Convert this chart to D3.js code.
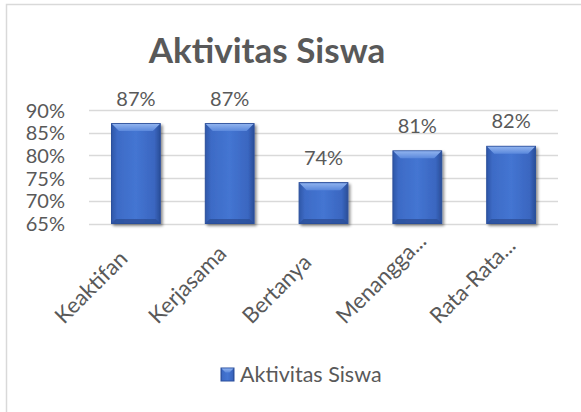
<!DOCTYPE html>
<html>
<head>
<meta charset="utf-8">
<script src="https://cdn.jsdelivr.net/npm/d3@7"></script>
<style>
  body { margin: 0; background: #fff; }
  text { font-family: Lato, "Noto Sans", sans-serif; fill: #595959; }
</style>
</head>
<body>
<div id="chart"></div>
<script>
// data
var categories = ["Keaktifan", "Kerjasama", "Bertanya", "Menangga...", "Rata-Rata..."];
var values = [0.87, 0.87, 0.74, 0.81, 0.82];
var valueLabels = ["87%", "87%", "74%", "81%", "82%"];
var yTicks = [0.65, 0.70, 0.75, 0.80, 0.85, 0.90];
var seriesName = "Aktivitas Siswa";
var chartTitle = "Aktivitas Siswa";

var W = 581, H = 412;
var margin = {top: 110, left: 89, right: 23, bottom: 188.5};
var width = W - margin.left - margin.right,
    height = H - margin.top - margin.bottom;

var svg = d3.select("#chart").append("svg")
    .attr("width", W)
    .attr("height", H);

// chart border (runs off the right and bottom edge)
svg.append("rect")
    .attr("x", 6.5).attr("y", 4.5)
    .attr("width", 700).attr("height", 600)
    .attr("fill", "none")
    .attr("stroke", "#d9d9d9")
    .attr("stroke-width", 1.5);

var defs = svg.append("defs");
var grad = defs.append("linearGradient").attr("id", "barGrad")
    .attr("x1", "0").attr("x2", "1").attr("y1", "0").attr("y2", "0");
grad.append("stop").attr("offset", "0%").attr("stop-color", "#2f57a8");
grad.append("stop").attr("offset", "12%").attr("stop-color", "#3d6bc6");
grad.append("stop").attr("offset", "50%").attr("stop-color", "#4475d2");
grad.append("stop").attr("offset", "88%").attr("stop-color", "#3a66c0");
grad.append("stop").attr("offset", "100%").attr("stop-color", "#2a4e98");

var topGrad = defs.append("linearGradient").attr("id", "topGrad")
    .attr("x1", "0").attr("x2", "0").attr("y1", "0").attr("y2", "1");
topGrad.append("stop").attr("offset", "0%").attr("stop-color", "#8fb2ee");
topGrad.append("stop").attr("offset", "100%").attr("stop-color", "#5a88dc");

var shadow = defs.append("filter").attr("id", "shadow")
    .attr("x", "-20%").attr("y", "-20%").attr("width", "150%").attr("height", "150%");
shadow.append("feGaussianBlur").attr("in", "SourceAlpha").attr("stdDeviation", 1.6);
shadow.append("feOffset").attr("dx", 2).attr("dy", 1.5).attr("result", "off");
shadow.append("feComponentTransfer").append("feFuncA").attr("type", "linear").attr("slope", 0.45);
var merge = shadow.append("feMerge");
merge.append("feMergeNode");
merge.append("feMergeNode").attr("in", "SourceGraphic");

// title
svg.append("text")
    .attr("x", 267)
    .attr("y", 63)
    .attr("text-anchor", "middle")
    .style("font-size", "35px")
    .style("font-weight", "bold")
    .text(chartTitle);

var g = svg.append("g")
    .attr("transform", "translate(" + margin.left + "," + margin.top + ")");

var x = d3.scaleBand()
    .domain(categories)
    .range([0, width])
    .paddingInner(0.48)
    .paddingOuter(0.24);

var y = d3.scaleLinear()
    .domain([0.65, 0.90])
    .range([height, 0]);

// gridlines
g.append("g")
    .selectAll("line")
    .data(yTicks)
    .enter().append("line")
    .attr("x1", 0).attr("x2", width)
    .attr("y1", function(d) { return Math.round(y(d)) + 0.5; })
    .attr("y2", function(d) { return Math.round(y(d)) + 0.5; })
    .attr("stroke", "#d9d9d9")
    .attr("stroke-width", 1.5);

// y axis labels
var yAxis = g.append("g")
    .call(d3.axisLeft(y).tickValues(yTicks).tickFormat(d3.format(".0%")).tickSize(0).tickPadding(24));
yAxis.select(".domain").remove();
yAxis.selectAll("text")
    .style("font-size", "20px")
    .attr("fill", "#595959")
    .attr("dy", "0.35em");

// x axis labels, rotated
var xAxis = g.append("g")
    .attr("transform", "translate(0," + height + ")")
    .call(d3.axisBottom(x).tickSize(0));
xAxis.select(".domain").remove();
xAxis.selectAll("text")
    .style("font-size", "22px")
    .attr("fill", "#595959")
    .attr("text-anchor", "start")
    .attr("y", 0).attr("dy", 0)
    .attr("transform", "translate(-72," + (325 - margin.top - height) + ") rotate(-45)");

// bars
var bars = g.append("g")
    .selectAll("g")
    .data(values)
    .enter().append("g")
    .attr("filter", "url(#shadow)");

var bw = x.bandwidth(), bev = 7;

bars.append("rect")
    .attr("x", function(d, i) { return x(categories[i]); })
    .attr("y", function(d) { return y(d); })
    .attr("width", bw)
    .attr("height", function(d) { return height - y(d); })
    .attr("fill", "url(#barGrad)")
    .attr("stroke", "#2b4f9c")
    .attr("stroke-width", 1);

// top bevel
bars.append("path")
    .attr("d", function(d, i) {
        var x0 = x(categories[i]) + 0.5, x1 = x0 + bw - 1, t = y(d) + 0.5;
        return "M" + x0 + "," + t + "L" + x1 + "," + t +
            "L" + (x1 - bev) + "," + (t + bev) + "L" + (x0 + bev) + "," + (t + bev) + "Z";
    })
    .attr("fill", "url(#topGrad)");

// bottom bevel (darker)
bars.append("path")
    .attr("d", function(d, i) {
        var x0 = x(categories[i]) + 0.5, x1 = x0 + bw - 1, b = height - 0.5;
        return "M" + x0 + "," + b + "L" + x1 + "," + b +
            "L" + (x1 - 4) + "," + (b - 4) + "L" + (x0 + 4) + "," + (b - 4) + "Z";
    })
    .attr("fill", "#2c4f98")
    .attr("opacity", 0.8);

// value labels
g.append("g")
    .selectAll("text")
    .data(values)
    .enter().append("text")
    .attr("x", function(d, i) { return x(categories[i]) + bw / 2; })
    .attr("y", function(d) { return y(d) - 18; })
    .attr("text-anchor", "middle")
    .style("font-size", "20px")
    .text(function(d, i) { return valueLabels[i]; });

// legend
var legend = svg.append("g").attr("transform", "translate(221,368)");
legend.append("rect")
    .attr("width", 13).attr("height", 13)
    .attr("fill", "url(#barGrad)")
    .attr("stroke", "#2b4f9c");
legend.append("path")
    .attr("d", "M0.5,0.5L12.5,0.5L8.5,4.5L4.5,4.5Z")
    .attr("fill", "url(#topGrad)");
legend.append("text")
    .attr("x", 19)
    .attr("y", 14)
    .style("font-size", "21.5px")
    .text(seriesName);
</script>
</body>
</html>
